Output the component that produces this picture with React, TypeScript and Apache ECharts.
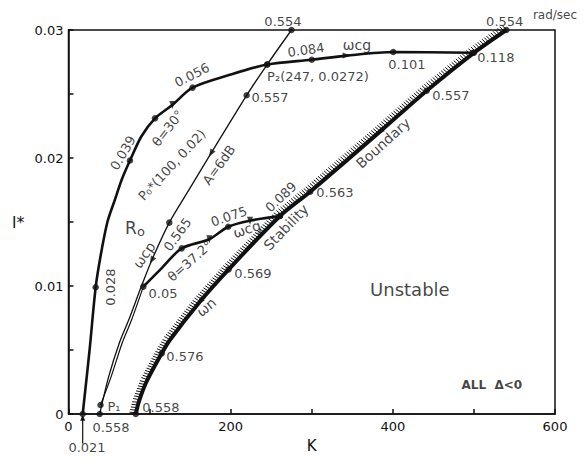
import React, { useEffect, useRef } from 'react';
import * as echarts from 'echarts';

// ---- axis ticks ----
const xTicks = [0, 200, 400, 600];
const yTicks = [0, 0.01, 0.02, 0.03];

// ---- theta = 30 deg curve (gain crossover freq marks) ----
const theta30K = [17.5, 26, 33.5, 40, 48, 57, 65.6, 75.8, 90, 106.7, 128, 153, 199, 245, 300, 343, 400.5, 499];
const theta30L = [0, 0.005, 0.0099, 0.0125, 0.015, 0.0167, 0.0183, 0.0198, 0.0217, 0.0231, 0.02414, 0.0255, 0.0265, 0.0273, 0.02768, 0.028, 0.02828, 0.02822];
const theta30Dots = [0, 2, 7, 9, 11, 13, 14, 16, 17];
const theta30Arrows = [10, 15];

// ---- theta = 37.2 deg curve ----
const theta37K = [39.5, 52.5, 66.5, 77.5, 92.3, 115, 139.6, 173.6, 197, 223.8, 260.8];
const theta37L = [0.0007, 0.0029, 0.0056, 0.0073, 0.00995, 0.0114, 0.01294, 0.01365, 0.01463, 0.0151, 0.01547];
const theta37Dots = [0, 4, 6, 8, 10];
const theta37Arrows = [7, 9];
const theta37Split = 4;

// ---- A = 6 dB curve (phase crossover freq marks) ----
const gainK = [38.5, 49.5, 63, 74, 90, 102.6, 124.3, 150, 175.7, 219.7, 245, 275];
const gainL = [0, 0.0029, 0.0056, 0.0073, 0.01, 0.012, 0.01495, 0.01766, 0.02036, 0.0249, 0.0273, 0.03];
const gainDots = [0, 6, 9, 10, 11];
const gainArrows = [5, 8];

// ---- stability boundary ----
const boundaryK = [83, 87, 96, 115, 125, 162, 197.5, 260.8, 298, 384, 441.7, 500, 540];
const boundaryL = [0, 0.001, 0.0025, 0.00474, 0.00578, 0.00877, 0.0113, 0.01547, 0.01737, 0.02206, 0.02526, 0.02822, 0.03];
const boundaryDots = [0, 3, 6, 7, 8, 10, 11, 12];
const boundaryArrows = [5, 9];

// ---- annotation texts and their anchor (K, l*) ----
const noteText = ['0.021', '0.558', 'P₁', '0.558', '0.576', 'ωn', '0.569', '0.05', '0.028', 'ωcp', '0.565', 'θ=37.2°', '0.075', 'ωcg', '0.089', 'Stability', 'Boundary', '0.563', '0.557', '0.118', '0.554', '0.101', 'ωcg', '0.084', 'P₂(247, 0.0272)', '0.557', '0.554', '0.056', 'θ=30°', '0.039', 'P₀*(100, 0.02)', 'A=6dB', 'Unstable', 'ALL  Δ<0', 'rad/sec', '{r|R}{o|o}'];
const noteK = [22.8, 52.4, 56.1, 114, 143.6, 169.7, 227.5, 116.6, 51.2, 93.2, 134.4, 149.8, 197.9, 220, 262, 268.2, 388, 328.6, 471.6, 527, 538, 417.4, 355.7, 292.8, 307.7, 248.5, 264.5, 152.3, 122.5, 67.2, 127.6, 185.6, 421, 522, 600, 82];
const noteL = [-0.00258, -0.00102, 0.00055, 0.00047, 0.00453, 0.00836, 0.011, 0.00945, 0.00992, 0.01242, 0.01402, 0.01195, 0.01543, 0.01445, 0.01695, 0.0146, 0.02117, 0.01727, 0.02492, 0.02789, 0.03063, 0.02727, 0.02883, 0.02844, 0.02633, 0.02469, 0.03063, 0.02648, 0.02232, 0.02039, 0.01945, 0.01945, 0.00969, 0.00227, 0.03117, 0.01453];
// styling of annotations (kept apart from the data)
const noteRotate = [0, 0, 0, 0, 0, 40, 0, 0, 90, 56, 54, 41, 19, 18, 43, 46, 42, 0, 0, 0, 0, 0, 0, 8, 0, 0, 0, 27, 52, 60, 47, 54, 0, 0, 0, 0];
const noteSize = [13, 13, 13, 13, 13, 14, 13, 13, 13, 14, 13, 13, 13, 14, 13, 14, 14, 13, 13, 13, 13, 13, 14, 13, 13, 13, 13, 13, 13, 13, 13, 13, 18, 12, 12, 17];
const noteBold = [33];

// arrow (triangle) rotations, degrees counter-clockwise from "up"
const theta30ArrowRot = [180, -90];
const theta37ArrowRot = [180, 180];
const gainArrowRot = [150, 150];
const boundaryArrowRot = [141, 131];

const FONT = 'DejaVu Sans';
const INK = '#111';

function pts(K: number[], L: number[], from = 0, to = K.length) {
  const out: number[][] = [];
  for (let i = from; i < to; i++) out.push([K[i], L[i]]);
  return out;
}

function buildOption() {
  const dots: number[][] = [];
  const addDots = (K: number[], L: number[], idx: number[]) => idx.forEach((i) => dots.push([K[i], L[i]]));
  addDots(theta30K, theta30L, theta30Dots);
  addDots(theta37K, theta37L, theta37Dots);
  addDots(gainK, gainL, gainDots);
  addDots(boundaryK, boundaryL, boundaryDots);

  const arrows: any[] = [];
  const addArrows = (K: number[], L: number[], idx: number[], rot: number[]) =>
    idx.forEach((i, j) => arrows.push({ value: [K[i], L[i]], symbolRotate: rot[j] }));
  addArrows(theta30K, theta30L, theta30Arrows, theta30ArrowRot);
  addArrows(theta37K, theta37L, theta37Arrows, theta37ArrowRot);
  addArrows(gainK, gainL, gainArrows, gainArrowRot);
  addArrows(boundaryK, boundaryL, boundaryArrows, boundaryArrowRot);

  const notes = noteText.map((t, i) => ({
    value: [noteK[i], noteL[i]],
    label: {
      formatter: t,
      rotate: noteRotate[i],
      fontSize: noteSize[i],
      fontWeight: noteBold.includes(i) ? 'bold' : 'normal',
    },
  }));

  const lineBase = {
    type: 'line' as const,
    showSymbol: false,
    smooth: 0.3,
    silent: true,
    clip: false,
  };

  return {
    animation: false,
    backgroundColor: '#fff',
    grid: {
      left: 68.5,
      right: 30,
      top: 30,
      bottom: 51,
      show: true,
      borderColor: INK,
      borderWidth: 1.5,
      backgroundColor: 'transparent',
    },
    xAxis: {
      type: 'value',
      min: 0,
      max: 600,
      interval: 100,
      name: 'K',
      nameLocation: 'middle',
      nameGap: 24,
      nameTextStyle: { fontFamily: FONT, fontSize: 15, color: INK },
      axisLine: { show: true, lineStyle: { color: INK, width: 1.5 } },
      axisTick: { show: true, inside: true, length: 5, lineStyle: { color: INK, width: 1.5 } },
      axisLabel: {
        margin: 6,
        fontFamily: FONT,
        fontSize: 13,
        color: INK,
        formatter: (v: number) => (xTicks.includes(v) ? String(v) : ''),
      },
      splitLine: { show: false },
    },
    yAxis: {
      type: 'value',
      min: 0,
      max: 0.03,
      interval: 0.005,
      name: 'l*',
      nameLocation: 'middle',
      nameRotate: 0,
      nameGap: 44,
      nameTextStyle: { fontFamily: FONT, fontSize: 16, color: INK },
      axisLine: { show: true, lineStyle: { color: INK, width: 1.5 } },
      axisTick: { show: true, inside: true, length: 5, lineStyle: { color: INK, width: 1.5 } },
      axisLabel: {
        margin: 5,
        fontFamily: FONT,
        fontSize: 13,
        color: INK,
        formatter: (v: number) => {
          const hit = yTicks.find((t) => Math.abs(t - v) < 1e-9);
          if (hit === undefined) return '';
          return hit === 0 ? '0' : hit.toFixed(2);
        },
      },
      splitLine: { show: false },
    },
    series: [
      {
        type: 'custom',
        silent: true,
        data: [[boundaryK[0], boundaryL[0]]],
        renderItem: (_params: any, api: any) => {
          const p = boundaryK.map((k, i) => api.coord([k, boundaryL[i]]));
          const children: any[] = [];
          const step = 2.7;
          let t = 1;
          for (let i = 0; i < p.length - 1; i++) {
            const x0 = p[i][0], y0 = p[i][1];
            const dx = p[i + 1][0] - x0, dy = p[i + 1][1] - y0;
            const len = Math.hypot(dx, dy);
            const ux = dx / len, uy = dy / len;
            const nx = uy, ny = -ux;
            while (t < len) {
              const px = x0 + ux * t, py = y0 + uy * t;
              children.push({
                type: 'line',
                shape: { x1: px + nx * 1.5, y1: py + ny * 1.5, x2: px + nx * 6.5 - ux * 0.8, y2: py + ny * 6.5 - uy * 0.8 },
                style: { stroke: INK, lineWidth: 1 },
              });
              t += step;
            }
            t -= len;
          }
          return { type: 'group', children };
        },
        z: 1,
      },
      { ...lineBase, data: pts(boundaryK, boundaryL), lineStyle: { color: INK, width: 4 }, z: 2 },
      { ...lineBase, data: pts(theta30K, theta30L), lineStyle: { color: INK, width: 2.6 }, z: 2 },
      { ...lineBase, data: pts(theta37K, theta37L, 0, theta37Split + 1), lineStyle: { color: INK, width: 1.2 }, z: 2 },
      { ...lineBase, data: pts(theta37K, theta37L, theta37Split), lineStyle: { color: INK, width: 2.6 }, z: 2 },
      { ...lineBase, data: pts(gainK, gainL), lineStyle: { color: INK, width: 1.3 }, z: 2 },
      {
        type: 'line',
        silent: true,
        clip: false,
        smooth: false,
        data: [
          { value: [theta30K[0], -0.0023], symbol: 'none' },
          { value: [theta30K[0], -0.0003], symbol: 'triangle', symbolSize: [5, 6] },
        ],
        lineStyle: { color: INK, width: 1.2 },
        itemStyle: { color: INK },
        z: 3,
      },
      {
        type: 'scatter',
        silent: true,
        clip: false,
        symbol: 'circle',
        symbolSize: 6.5,
        itemStyle: { color: INK },
        data: dots,
        z: 4,
      },
      {
        type: 'scatter',
        silent: true,
        clip: false,
        symbol: 'triangle',
        symbolSize: [6, 8],
        itemStyle: { color: INK },
        data: arrows,
        z: 4,
      },
      {
        type: 'scatter',
        silent: true,
        clip: false,
        symbol: 'circle',
        symbolSize: 1,
        itemStyle: { color: 'rgba(0,0,0,0)' },
        label: {
          show: true,
          position: 'inside',
          color: INK,
          fontFamily: FONT,
          rich: {
            r: { fontSize: 17, fontFamily: FONT, color: INK },
            o: { fontSize: 13, fontFamily: FONT, color: INK, padding: [7, 0, 0, 0] },
          },
        },
        data: notes,
        z: 5,
      },
    ],
  };
}

export default function App() {
  const ref = useRef<HTMLDivElement>(null);
  useEffect(() => {
    if (!ref.current) return;
    const chart = echarts.init(ref.current, null, { renderer: 'svg' });
    chart.setOption(buildOption() as any);
    return () => chart.dispose();
  }, []);
  return (
    <div
      ref={ref}
      style={{ position: 'fixed', left: 0, top: 0, width: 585, height: 465, background: '#fff' }}
    />
  );
}
